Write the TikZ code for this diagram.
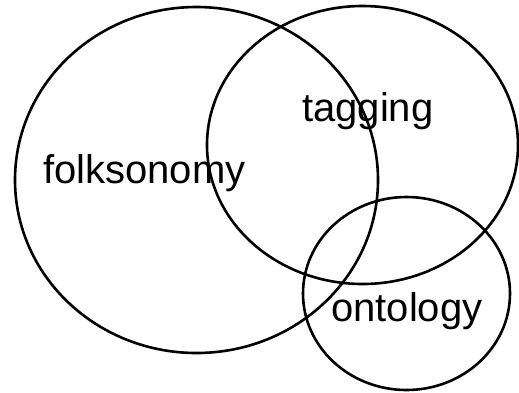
\documentclass[tikz,border=0pt]{standalone}
\usepackage{fontspec}
\setmainfont{Liberation Sans}
\begin{document}
\begin{tikzpicture}[x=1pt,y=-1pt,
  ring/.style={draw=black,line width=2.6pt},
  lbl/.style={anchor=base west,inner sep=0pt,font=\fontsize{40}{48}\selectfont}]
\useasboundingbox (0,0) rectangle (519,392);
\draw[ring] (196.5,180) ellipse [x radius=181.5,y radius=173];
\draw[ring] (362.5,145) ellipse [x radius=155.5,y radius=139];
\draw[ring] (406.5,293.5) ellipse [x radius=103.5,y radius=96.5];
\node[lbl] (folk) at (43,183) {folksonomy};
\node[lbl] (tag) at (302,121) {tagging};
\node[lbl] (onto) at (331,321) {ontology};
\end{tikzpicture}
\end{document}
